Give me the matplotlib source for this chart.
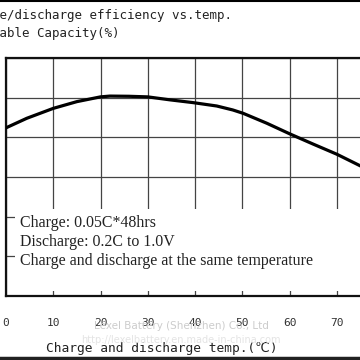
import matplotlib
matplotlib.use("Agg")
from matplotlib import pyplot as plt
from matplotlib.patches import Rectangle
from matplotlib.lines import Line2D

# temperature (C) vs available capacity (%)
temps = [-1, 4.4, 10, 15, 20, 22, 26, 30, 34.7, 39.6, 44.6, 48, 50.2, 55.2, 60.1, 65, 70, 75, 80]
capacity = [83.7, 89.6, 94.6, 98, 100.4, 100.8, 100.7, 100.4, 98.9, 97.5, 95.8, 93.8, 92.1, 87.1, 81.7, 76.6, 71.5, 65.6, 60]

x_ticks = [0, 10, 20, 30, 40, 50, 60, 70, 80]
y_ticks = [0, 20, 40, 60, 80, 100, 120]

notes = ["Charge: 0.05C*48hrs",
         "Discharge: 0.2C to 1.0V",
         "Charge and discharge at the same temperature"]

mono = ["DejaVu Sans Mono", "DejaVu Sans", "Noto Sans CJK SC"]
serif = ["Liberation Serif", "DejaVu Serif"]

fig = plt.figure(figsize=(3.6, 3.6), dpi=100)
ax = fig.add_axes([6 / 360, 1 - 296 / 360, 378 / 360, 238 / 360])

ax.plot(temps, capacity, color="black", lw=2.3, zorder=3,
        solid_capstyle="round", solid_joinstyle="round")
ax.set_xlim(0, 80)
ax.set_ylim(0, 120)
ax.set_xticks(x_ticks)
ax.set_yticks(y_ticks)
ax.set_axisbelow(True)
ax.grid(True, color="#444444", lw=0.9)
ax.tick_params(length=0, labelleft=False, labelsize=8, labelcolor="#333333", pad=16)
for lab in ax.get_xticklabels():
    lab.set_family(mono)
for side in ["left", "top", "bottom", "right"]:
    ax.spines[side].set_linewidth(1.6)
    ax.spines[side].set_color("#111111")

# white note box covering the lower grid
ax.add_patch(Rectangle((0.024, 0.02), 1.0, 0.345, transform=ax.transAxes,
                       facecolor="white", edgecolor="none", zorder=1))
for i, line in enumerate(notes):
    ax.text(0.037, 0.305 - i * 0.078, line, transform=ax.transAxes,
            family=serif, fontsize=11.4, color="#222222", va="center", zorder=4)

# titles (left part cut off by figure edge)
fig.text(-37.5 / 360, 1 - 15 / 360, "Charge/discharge efficiency vs.temp.",
         family=mono, fontsize=9, color="#222222", va="center")
fig.text(-37.5 / 360, 1 - 34 / 360, "Available Capacity(%)",
         family=mono, fontsize=9, color="#222222", va="center")
ax.set_xlabel("Charge and discharge temp.(\u2103)", family=mono, fontsize=9.3,
              color="#222222", labelpad=8)
ax.xaxis.set_label_coords(156 / 378, -46 / 238)

# watermark
fig.text(181 / 360, 1 - 326 / 360, "Lexel Battery (Shenzhen) Co., Ltd",
         fontsize=7.5, color="#cccccc", ha="center", va="center")
fig.text(181 / 360, 1 - 340 / 360, "http://lexelbattery.en.made-in-china.com",
         fontsize=7, color="#e4e4e4", ha="center", va="center")

# image borders
fig.add_artist(Line2D([0, 1], [0.998, 0.998], color="black", lw=1.5))
fig.add_artist(Line2D([0, 1], [0.006, 0.006], color="#222222", lw=2.5))

fig.savefig("out.png", dpi=100)
